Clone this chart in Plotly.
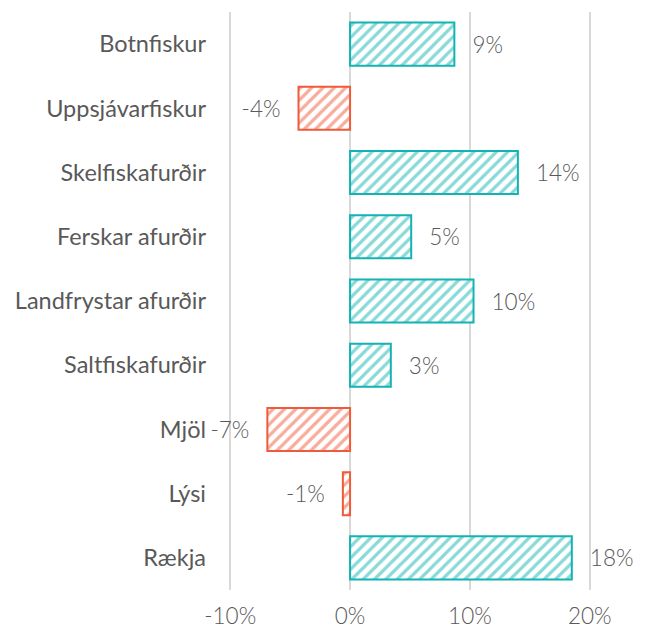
import plotly.graph_objects as go

categories = ["Botnfiskur", "Uppsjávarfiskur", "Skelfiskafurðir", "Ferskar afurðir",
              "Landfrystar afurðir", "Saltfiskafurðir", "Mjöl", "Lýsi", "Rækja"]
values = [8.7, -4.3, 14.0, 5.1, 10.3, 3.4, -6.9, -0.6, 18.5]
x_ticks = [-10, 0, 10, 20]
x_tick_labels = ["-10%", "0%", "10%", "20%"]

TEAL = "#14b3b3"
RED = "#ef5a3a"
GREY = "#595959"
PAD = "\u00a0\u00a0\u2009"

colors = [TEAL if v >= 0 else RED for v in values]
labels = [(PAD + f"{round(v):d}%") if v >= 0 else (f"{round(v):d}%" + PAD) for v in values]

fig = go.Figure(go.Bar(
    x=values, y=categories, orientation="h",
    marker=dict(color="white", line=dict(color=colors, width=2),
                pattern=dict(shape="/", fgcolor=colors, bgcolor="white", size=8, solidity=0.4)),
    width=0.67,
    text=labels, textposition="outside", cliponaxis=False,
    textfont=dict(family="Lato", size=22.5, color=GREY, weight=300),
))

fig.update_layout(
    width=648, height=633,
    margin=dict(l=229, r=57, t=12, b=43),
    plot_bgcolor="white", paper_bgcolor="white",
    showlegend=False,
    xaxis=dict(range=[-10.1, 20.1], tickvals=x_ticks, ticktext=x_tick_labels,
               showgrid=True, gridcolor="#d9d9d9", gridwidth=2,
               zeroline=False, automargin=False,
               showline=False, ticks="", ticklabelstandoff=10,
               tickfont=dict(family="Lato", size=22.5, color=GREY, weight=300)),
    yaxis=dict(autorange="reversed", showgrid=False, showline=False, ticks="",
               ticklabelstandoff=22, automargin=False,
               tickfont=dict(family="Lato", size=23.5, color=GREY, weight=400)),
)

fig.write_html("out.html", config={"displayModeBar": False},
               post_script="document.body.style.margin='0';")
